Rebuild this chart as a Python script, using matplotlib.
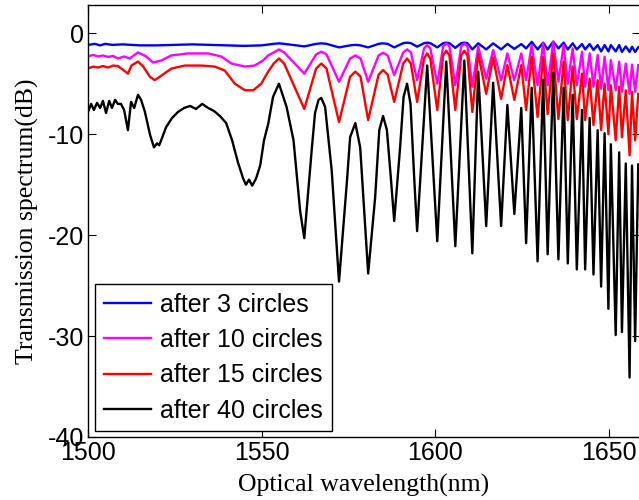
import matplotlib
matplotlib.use("Agg")
import matplotlib.pyplot as plt

# ---------------- data (wavelength nm, transmission dB) ----------------
labels = ["after 3 circles", "after 10 circles", "after 15 circles", "after 40 circles"]
colors = ["#0000ff", "#ff00ff", "#ff0000", "#000000"]

# shared sample positions of the interference fringes for the three upper curves
wl_osc = [1553.5, 1555.0, 1556.5, 1562.3, 1565.7, 1567.2, 1568.7, 1572.3, 1575.5, 1577.0,
          1578.5, 1580.7, 1583.7, 1585.0, 1586.3, 1588.2, 1590.8, 1591.9, 1593.0, 1594.8,
          1596.8, 1597.7, 1598.6, 1600.6, 1602.3, 1603.2, 1604.1, 1605.8, 1607.5, 1608.4,
          1609.3, 1610.7,
          1612.4, 1614.7, 1616.7, 1619.0, 1620.8, 1622.8, 1624.8, 1626.2, 1627.8, 1629.5,
          1631.1, 1632.4, 1634.0, 1635.5, 1637.0, 1638.2, 1639.6, 1640.8, 1642.3, 1643.2,
          1644.5, 1645.6, 1646.8, 1647.8, 1648.8, 1649.9, 1650.6, 1652.0, 1653.0, 1653.8,
          1654.9, 1656.0, 1656.7, 1657.6, 1658.5]

# after 3 circles (blue)
wl_blue_left = [1500.0, 1502.0, 1503.5, 1505.0, 1507.0, 1510.0, 1515.0, 1520.0, 1525.0,
                1530.0, 1535.0, 1540.0, 1545.0, 1550.0]
db_blue_left = [-1.15, -1.05, -1.2, -1.05, -1.15, -1.1, -1.2, -1.2, -1.15,
                -1.1, -1.15, -1.2, -1.25, -1.2]
db_blue_osc = [-1.05, -1.0, -1.05, -1.3, -1.05, -1.0, -1.05, -1.4, -1.2, -1.15,
               -1.2, -1.4, -1.05, -1.0, -1.05, -1.4, -0.98, -0.93, -0.98, -1.33,
               -0.98, -0.93, -0.98, -1.4, -0.98, -0.93, -0.98, -1.45, -0.98, -0.93,
               -0.98, -1.6,
               -1.0, -1.6, -1.0, -1.6, -1.05, -1.55, -1.07, -1.5, -0.85, -1.6,
               -0.93, -1.6, -0.83, -1.5, -0.93, -1.6, -1.0, -1.6, -1.07, -1.6,
               -1.07, -1.66, -1.17, -1.8, -1.17, -1.8, -1.17, -1.8, -1.17, -1.85,
               -1.3, -1.85, -1.33, -1.85, -1.4]

# after 10 circles (magenta)
wl_mag_left = [1500.0, 1501.5, 1502.9, 1504.3, 1505.8, 1507.2, 1508.6, 1510.4, 1512.0,
               1514.4, 1516.8, 1518.7, 1521.1, 1524.0, 1528.8, 1534.6, 1538.4, 1541.3,
               1545.2, 1548.0, 1550.4, 1551.9]
db_mag_left = [-2.3, -2.15, -2.3, -2.2, -2.35, -2.25, -2.5, -2.3, -2.5,
               -1.9, -2.3, -2.9, -2.7, -2.2, -2.0, -2.0, -2.3, -3.0,
               -3.3, -3.2, -2.7, -2.2]
db_mag_osc = [-1.9, -1.6, -1.9, -4.0, -2.1, -1.83, -2.1, -4.8, -2.5, -2.2,
              -2.5, -4.8, -2.2, -1.93, -2.2, -4.15, -1.9, -1.6, -1.9, -4.65,
              -1.5, -1.17, -1.5, -5.0, -1.3, -1.0, -1.3, -5.15, -1.3, -1.0,
              -1.3, -5.3,
              -1.33, -4.5, -1.66, -4.65, -2.0, -4.65, -2.0, -4.65, -1.17, -5.15,
              -1.0, -5.15, -0.83, -4.8, -1.17, -5.0, -1.5, -5.15, -1.83, -5.3,
              -2.0, -5.3, -2.16, -5.5, -2.33, -5.65, -2.66, -5.65, -2.82, -5.8,
              -3.0, -6.0, -3.1, -5.8, -3.16]

# after 15 circles (red)
wl_red_left = [1500.0, 1501.5, 1502.9, 1504.3, 1505.8, 1507.2, 1508.6, 1509.6, 1511.5,
               1512.5, 1514.4, 1515.9, 1517.8, 1519.2, 1520.7, 1524.0, 1527.9, 1532.7,
               1536.5, 1539.4, 1542.3, 1545.2, 1547.6, 1549.9, 1551.9]
db_red_left = [-3.5, -3.3, -3.4, -3.25, -3.4, -3.2, -3.25, -3.5, -4.0,
               -3.2, -2.8, -3.3, -4.3, -4.65, -4.3, -3.5, -3.2, -3.2,
               -3.3, -3.7, -5.0, -5.65, -5.65, -5.0, -3.8]
db_red_osc = [-3.0, -2.5, -3.0, -7.5, -3.5, -3.0, -3.5, -8.8, -4.3, -3.8,
              -4.3, -8.6, -4.1, -3.65, -4.1, -6.8, -3.0, -2.5, -3.0, -6.8,
              -2.5, -2.0, -2.5, -7.6, -2.2, -1.73, -2.2, -7.6, -2.2, -1.73,
              -2.2, -7.8,
              -2.06, -6.0, -2.4, -6.5, -3.16, -6.6, -3.16, -7.6, -2.33, -8.3,
              -2.33, -8.0, -2.0, -8.5, -2.8, -8.6, -3.3, -8.5, -4.0, -8.6,
              -4.5, -9.1, -4.65, -9.6, -5.0, -10.0, -5.15, -10.6, -5.3, -10.3,
              -5.65, -12.1, -5.8, -10.6, -6.0]

# after 40 circles (black)
wl_black = [1500.0, 1500.9, 1501.7, 1502.6, 1503.5, 1504.3, 1505.2, 1506.1, 1506.9, 1507.8,
            1508.6, 1509.5, 1510.4, 1511.5, 1512.4, 1513.3, 1514.4, 1515.3, 1516.4, 1517.9,
            1519.0, 1519.9, 1520.5, 1521.3, 1522.5, 1524.2, 1525.9, 1527.7, 1529.4, 1531.1,
            1532.9, 1534.6, 1536.3, 1538.0, 1539.8, 1541.5, 1543.2, 1544.7, 1545.5, 1546.4,
            1547.3, 1548.4, 1549.6, 1550.7, 1551.9, 1553.3, 1555.0, 1557.2, 1559.2, 1561.1,
            1562.3, 1564.5, 1565.4, 1566.4, 1567.2, 1568.3, 1570.2, 1572.3, 1574.6, 1575.5,
            1577.0, 1578.4, 1580.7, 1582.7, 1583.9, 1585.0, 1586.1, 1587.3, 1588.2, 1589.9,
            1590.9, 1591.9, 1592.9, 1594.0, 1594.8,
            1597.7, 1600.6, 1603.2, 1605.8, 1608.4, 1610.7, 1612.4, 1614.7, 1616.7, 1619.0,
            1620.8, 1622.8, 1624.8, 1626.2, 1627.8, 1629.5, 1631.1, 1632.4, 1634.0, 1635.5,
            1637.0, 1638.2, 1639.6, 1640.8, 1642.3, 1643.2, 1644.5, 1645.6, 1646.8, 1647.8,
            1648.8, 1649.9, 1650.6, 1652.0, 1653.0, 1653.8, 1654.9, 1656.0, 1656.7, 1657.6,
            1658.5]
db_black = [-7.8, -7.0, -7.6, -6.9, -7.4, -6.7, -7.9, -6.7, -7.4, -6.6,
            -7.0, -7.0, -7.6, -9.6, -6.8, -7.4, -6.1, -6.6, -7.8, -10.1,
            -11.3, -10.9, -11.1, -10.4, -9.3, -8.4, -7.8, -7.4, -7.2, -7.5,
            -7.0, -7.4, -7.7, -8.2, -8.9, -10.6, -12.8, -14.4, -15.0, -14.5,
            -15.1, -14.4, -13.1, -10.6, -9.0, -6.3, -5.0, -7.3, -10.6, -17.6,
            -20.3, -11.3, -7.9, -6.6, -6.4, -7.3, -13.6, -24.6, -14.6, -10.3,
            -8.9, -11.3, -23.8, -16.3, -9.6, -8.2, -9.6, -14.6, -18.6, -11.3,
            -6.3, -5.0, -7.0, -14.6, -19.6,
            -3.2, -20.6, -2.8, -21.1, -2.7, -21.8, -3.8, -19.1, -4.9, -19.1,
            -7.1, -17.9, -7.4, -20.8, -5.4, -22.6, -4.6, -21.9, -3.9, -22.4,
            -5.4, -22.8, -6.1, -23.4, -7.6, -23.4, -8.4, -23.9, -9.6, -25.1,
            -9.9, -27.3, -11.0, -29.9, -11.8, -29.6, -12.9, -34.1, -13.1, -30.5,
            -13.0]

x_ticks = [1500, 1550, 1600, 1650]
y_ticks = [-40, -30, -20, -10, 0]

# ---------------- figure ----------------
fig = plt.figure(figsize=(6.39, 5.0), dpi=100)
ax = fig.add_axes([88 / 639, 63 / 500, 552 / 639, 432 / 500])

series = [
    (wl_blue_left + wl_osc, db_blue_left + db_blue_osc),
    (wl_mag_left + wl_osc, db_mag_left + db_mag_osc),
    (wl_red_left + wl_osc, db_red_left + db_red_osc),
    (wl_black, db_black),
]
for (x, y), c, lab in zip(series, colors, labels):
    ax.plot(x, y, color=c, lw=1.7, label=lab, solid_joinstyle="round")

ax.set_xlim(1500, 1659)
ax.set_ylim(-40, 2.8)
ax.set_xticks(x_ticks)
ax.set_yticks(y_ticks)

tick_font = dict(family=["Liberation Sans", "DejaVu Sans"], size=18)
ax.set_xticklabels([str(v) for v in x_ticks], **tick_font)
ax.set_yticklabels([str(v) for v in y_ticks], **tick_font)
ax.tick_params(direction="in", length=6, width=0.8, top=True, right=True, pad=3)
for s in ax.spines.values():
    s.set_linewidth(1.0)

label_font = dict(family=["Liberation Serif", "DejaVu Serif"], size=18.5)
ax.set_xlabel("Optical wavelength(nm)", labelpad=6, **label_font)
ax.set_ylabel("Transmission spectrum(dB)", labelpad=6, **label_font)

leg = ax.legend(loc="lower left", bbox_to_anchor=(0.013, 0.013),
                prop=dict(family=["Liberation Sans", "DejaVu Sans"], size=18),
                frameon=True, fancybox=False, edgecolor="black", framealpha=1,
                handlelength=1.9, handletextpad=0.35, labelspacing=0.45,
                borderpad=0.35, borderaxespad=0)
leg.get_frame().set_linewidth(1.0)

fig.savefig("out.png", dpi=100)
